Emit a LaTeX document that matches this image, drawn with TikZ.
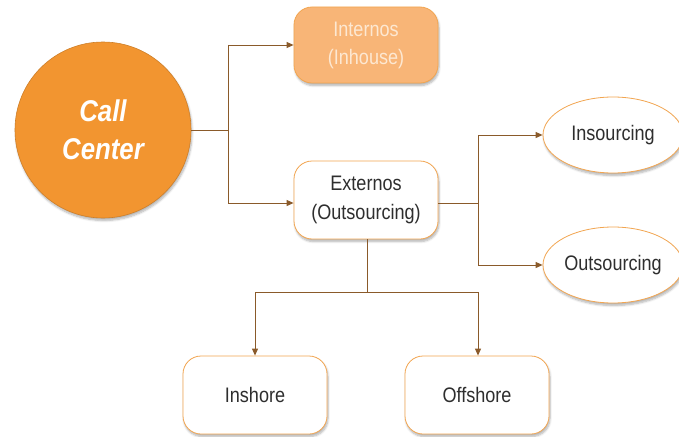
\documentclass[tikz,border=0pt]{standalone}
\usepackage{fontspec}
\setmainfont{Liberation Sans}[FakeStretch=0.86]
\usetikzlibrary{shapes.geometric,shadows.blur,arrows.meta}
\definecolor{ccorange}{HTML}{F29530}
\definecolor{lightorange}{HTML}{F8B577}
\definecolor{paletext}{HTML}{FDE8D2}
\definecolor{boxedge}{HTML}{F2A550}
\definecolor{linkbrown}{HTML}{8A5A2A}
\definecolor{inktext}{HTML}{2E2E2E}
\tikzset{
  x=1pt, y=-1pt,
  softshadow/.style={blur shadow={shadow xshift=1pt, shadow yshift=-2.5pt,
    shadow opacity=30, shadow blur steps=6}},
  hub/.style={circle, minimum size=176pt, inner sep=0pt, fill=ccorange,
    draw=ccorange!85!black, line width=0.6pt, softshadow,
    text=white, align=center, font=\fontsize{30}{38}\selectfont\bfseries\itshape},
  softbox/.style={rounded corners=18pt, minimum width=144pt, minimum height=76pt,
    fill=lightorange, draw=boxedge, line width=0.8pt, softshadow,
    text=paletext, align=center, font=\fontsize{21}{28}\selectfont},
  plainbox/.style={rounded corners=18pt, minimum width=144pt, minimum height=78pt,
    fill=white, draw=boxedge, line width=0.8pt, softshadow,
    text=inktext, align=center, font=\fontsize{21}{29}\selectfont},
  oval/.style={ellipse, minimum width=140pt, minimum height=76pt, inner sep=0pt,
    fill=white, draw=boxedge, line width=0.8pt, softshadow,
    text=inktext, font=\fontsize{21}{28}\selectfont},
  link/.style={draw=linkbrown, line width=0.9pt},
  arrowlink/.style={link, -{Triangle[length=7pt,width=6pt]}},
}
\begin{document}
\begin{tikzpicture}
\useasboundingbox (0,0) rectangle (679,436);

% nodes
\node[hub] (cc) at (103,130) {Call\\Center};
\node[softbox] (int) at (366,45) {Internos\\(Inhouse)};
\node[plainbox] (ext) at (366,200) {Externos\\(Outsourcing)};
\node[oval] (ins) at (613,135) {Insourcing};
\node[oval] (out) at (613,265) {Outsourcing};
\node[plainbox] (inshore) at (255,395) {Inshore};
\node[plainbox] (offshore) at (477,395) {Offshore};

% branch points
\coordinate (j1) at (228,130);
\coordinate (j2) at (478,203);
\coordinate (j3) at (367,292);

% Call Center to both kinds
\draw[link] (cc.east) -- (j1);
\draw[link] (228,45) -- (228,203);
\draw[arrowlink] (228,45) -- (int.west |- 0,45);
\draw[arrowlink] (228,203) -- (ext.west |- 0,203);

% external split to insourcing / outsourcing
\draw[link] (ext.east |- j2) -- (j2);
\draw[link] (478,135) -- (478,265);
\draw[arrowlink] (478,135) -- (ins.west);
\draw[arrowlink] (478,265) -- (out.west);

% external split to inshore / offshore
\draw[link] (ext.south -| j3) -- (j3);
\draw[link] (255,292) -- (478,292);
\draw[arrowlink] (255,292) -- (inshore.north);
\draw[arrowlink] (478,292) -- (offshore.north -| 478,0);
\end{tikzpicture}
\end{document}
